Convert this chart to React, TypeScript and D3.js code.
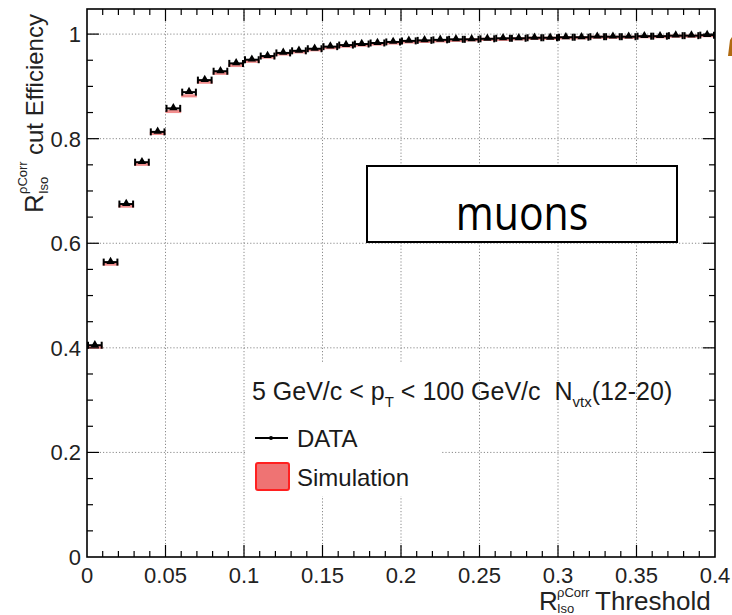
import React, { useEffect, useRef } from 'react';
import * as d3 from 'd3';

// bin lower edges of the threshold histogram (width 0.01)
const binLow = d3.range(0, 40).map(i => +(i * 0.01).toFixed(2));
const binWidth = 0.01;

// efficiency measured in data
const dataEff = [0.405, 0.564, 0.675, 0.755, 0.813, 0.858, 0.889, 0.912, 0.929, 0.944,
  0.951, 0.958, 0.964, 0.968, 0.972, 0.976, 0.979, 0.981, 0.983, 0.985,
  0.987, 0.988, 0.989, 0.990, 0.990, 0.991, 0.992, 0.992, 0.993, 0.993,
  0.994, 0.994, 0.995, 0.995, 0.995, 0.996, 0.996, 0.997, 0.997, 0.998];

// efficiency from simulation
const simEff = [0.401, 0.560, 0.671, 0.751, 0.810, 0.852, 0.882, 0.908, 0.925, 0.940,
  0.948, 0.956, 0.962, 0.966, 0.970, 0.974, 0.977, 0.979, 0.981, 0.983,
  0.985, 0.986, 0.987, 0.988, 0.989, 0.990, 0.990, 0.991, 0.992, 0.992,
  0.993, 0.993, 0.994, 0.994, 0.994, 0.995, 0.995, 0.996, 0.996, 0.997];

const xTicks = [0, 0.05, 0.1, 0.15, 0.2, 0.25, 0.3, 0.35, 0.4];
const xTickLabels = ['0', '0.05', '0.1', '0.15', '0.2', '0.25', '0.3', '0.35', '0.4'];
const yTicks = [0, 0.2, 0.4, 0.6, 0.8, 1];
const yTickLabels = ['0', '0.2', '0.4', '0.6', '0.8', '1'];

const W = 732;
const H = 615;
const FONT = '"Liberation Sans", Arial, Helvetica, sans-serif';

function App() {
  const ref = useRef<SVGSVGElement>(null);

  useEffect(() => {
    const svg = d3.select(ref.current);
    svg.selectAll('*').remove();

    const margin = { top: 9, right: 17, bottom: 58, left: 87 };
    const x = d3.scaleLinear().domain([0, 0.4]).range([margin.left, W - margin.right]);
    const y = d3.scaleLinear().domain([0, 1.048]).range([H - margin.bottom, margin.top]);
    const [x0, x1] = x.range();
    const [y0, y1] = y.range();

    svg.append('rect').attr('width', W).attr('height', H).attr('fill', '#fff');

    // dotted grid
    const grid = svg.append('g')
      .attr('stroke', '#8a8a8a')
      .attr('stroke-width', 1)
      .attr('stroke-dasharray', '1.2,2');
    grid.selectAll('.gx').data(xTicks.slice(1, -1)).enter().append('line')
      .attr('x1', d => x(d)).attr('x2', d => x(d))
      .attr('y1', y0).attr('y2', y1);
    grid.selectAll('.gy').data(yTicks.slice(1)).enter().append('line')
      .attr('x1', x0).attr('x2', x1)
      .attr('y1', d => y(d)).attr('y2', d => y(d));

    // legend background
    svg.append('rect')
      .attr('x', 245).attr('y', 362).attr('width', 196).attr('height', 134)
      .attr('fill', '#fff');

    // simulation band
    svg.append('g').selectAll('rect').data(simEff).enter().append('rect')
      .attr('x', (d, i) => x(binLow[i]))
      .attr('width', x(binWidth) - x(0))
      .attr('y', d => y(d + 0.003))
      .attr('height', d => y(d - 0.003) - y(d + 0.003))
      .attr('fill', '#f07a7a')
      .attr('opacity', 0.85);

    // data points: horizontal bars with caps and triangle markers
    const pts = svg.append('g').attr('stroke', '#000').attr('fill', '#000');
    dataEff.forEach((v, i) => {
      const xl = x(binLow[i]);
      const xr = x(binLow[i] + binWidth);
      const xc = x(binLow[i] + binWidth / 2);
      const yc = y(v);
      pts.append('line').attr('x1', xl + 1).attr('x2', xr - 1).attr('y1', yc).attr('y2', yc)
        .attr('stroke-width', 2);
      [xl + 1, xr - 1].forEach(cx => {
        pts.append('line').attr('x1', cx).attr('x2', cx).attr('y1', yc - 3.5).attr('y2', yc + 3.5)
          .attr('stroke-width', 2);
      });
      pts.append('path')
        .attr('d', d3.symbol(d3.symbolTriangle, 30)())
        .attr('transform', `translate(${xc},${yc - 0.5})`)
        .attr('stroke', 'none');
    });

    // "muons" box
    svg.append('rect')
      .attr('x', 367).attr('y', 166).attr('width', 310).attr('height', 76)
      .attr('fill', '#fff').attr('stroke', '#000').attr('stroke-width', 2);
    svg.append('text')
      .attr('transform', 'translate(522,230) scale(1,1.15)')
      .attr('text-anchor', 'middle')
      .attr('font-family', '"Open Sans", sans-serif')
      .attr('font-size', 41)
      .attr('fill', '#000')
      .text('muons');

    // frame
    svg.append('rect')
      .attr('x', x0).attr('y', y1).attr('width', x1 - x0).attr('height', y0 - y1)
      .attr('fill', 'none').attr('stroke', '#000').attr('stroke-width', 1.6);

    // ticks (inside, on all four sides)
    const ticks = svg.append('g').attr('stroke', '#000').attr('stroke-width', 1.2);
    const xMinor = d3.range(1, 40).map(i => i * 0.01);
    xMinor.forEach(t => {
      const major = Math.abs(t / 0.05 - Math.round(t / 0.05)) < 1e-6;
      const len = major ? 12 : 6;
      ticks.append('line').attr('x1', x(t)).attr('x2', x(t)).attr('y1', y0).attr('y2', y0 - len);
      ticks.append('line').attr('x1', x(t)).attr('x2', x(t)).attr('y1', y1).attr('y2', y1 + len);
    });
    const yMinor = d3.range(1, 21).map(i => i * 0.05);
    yMinor.forEach(t => {
      const major = Math.abs(t / 0.2 - Math.round(t / 0.2)) < 1e-6;
      const len = major ? 12 : 6;
      ticks.append('line').attr('x1', x0).attr('x2', x0 + len).attr('y1', y(t)).attr('y2', y(t));
      ticks.append('line').attr('x1', x1).attr('x2', x1 - len).attr('y1', y(t)).attr('y2', y(t));
    });

    // tick labels
    const lab = svg.append('g').attr('font-family', FONT).attr('font-size', 22).attr('fill', '#222');
    lab.selectAll('.xl').data(xTicks).enter().append('text')
      .attr('x', d => x(d)).attr('y', y0 + 26)
      .attr('text-anchor', 'middle')
      .text((d, i) => xTickLabels[i]);
    lab.selectAll('.yl').data(yTicks).enter().append('text')
      .attr('x', x0 - 6).attr('y', d => y(d) + 8)
      .attr('text-anchor', 'end')
      .text((d, i) => yTickLabels[i]);

    // x axis title
    const xt = svg.append('g').attr('font-family', FONT).attr('fill', '#222');
    xt.append('text').attr('x', 539).attr('y', 610).attr('font-size', 26).text('R');
    xt.append('text').attr('x', 557).attr('y', 597).attr('font-size', 13).text('ρCorr');
    xt.append('text').attr('x', 557).attr('y', 613).attr('font-size', 13).text('Iso');
    xt.append('text').attr('x', 595).attr('y', 610).attr('font-size', 26).text('Threshold');

    // y axis title
    const yt = svg.append('g').attr('font-family', FONT).attr('fill', '#222')
      .attr('transform', 'translate(43,213) rotate(-90)');
    yt.append('text').attr('x', 0).attr('y', 0).attr('font-size', 26).text('R');
    yt.append('text').attr('x', 19).attr('y', -16).attr('font-size', 13).text('ρCorr');
    yt.append('text').attr('x', 19).attr('y', 5).attr('font-size', 13).text('Iso');
    yt.append('text').attr('x', 58).attr('y', 0).attr('font-size', 24).text('cut Efficiency');

    // legend
    const lg = svg.append('g').attr('font-family', FONT).attr('fill', '#1a1a1a');
    const hdr = lg.append('text').attr('x', 252).attr('y', 400).attr('font-size', 25);
    hdr.append('tspan').text('5 GeV/c < p');
    hdr.append('tspan').attr('font-size', 15).attr('dy', 7).text('T');
    hdr.append('tspan').attr('dy', -7).text(' < 100 GeV/c \u00a0N');
    hdr.append('tspan').attr('font-size', 15).attr('dy', 7).text('vtx');
    hdr.append('tspan').attr('dy', -7).text('(12-20)');

    lg.append('line').attr('x1', 255).attr('x2', 288).attr('y1', 438).attr('y2', 438)
      .attr('stroke', '#000').attr('stroke-width', 2);
    lg.append('circle').attr('cx', 271).attr('cy', 438).attr('r', 2).attr('fill', '#000');
    lg.append('text').attr('x', 297).attr('y', 447).attr('font-size', 24).text('DATA');

    lg.append('rect').attr('x', 256).attr('y', 463).attr('width', 33).attr('height', 27)
      .attr('rx', 2).attr('fill', '#ef7373').attr('stroke', '#ff2020').attr('stroke-width', 2);
    lg.append('text').attr('x', 297).attr('y', 486).attr('font-size', 24).text('Simulation');

    // cut-off glyph at the right edge of the slide
    svg.append('path')
      .attr('d', 'M728,56 L730,40 L732,37 L732,56 Z')
      .attr('fill', '#b06a10');
  }, []);

  return (
    <svg ref={ref} width={W} height={H}
      style={{ position: 'absolute', left: 0, top: 0, display: 'block' }} />
  );
}

export default App;
